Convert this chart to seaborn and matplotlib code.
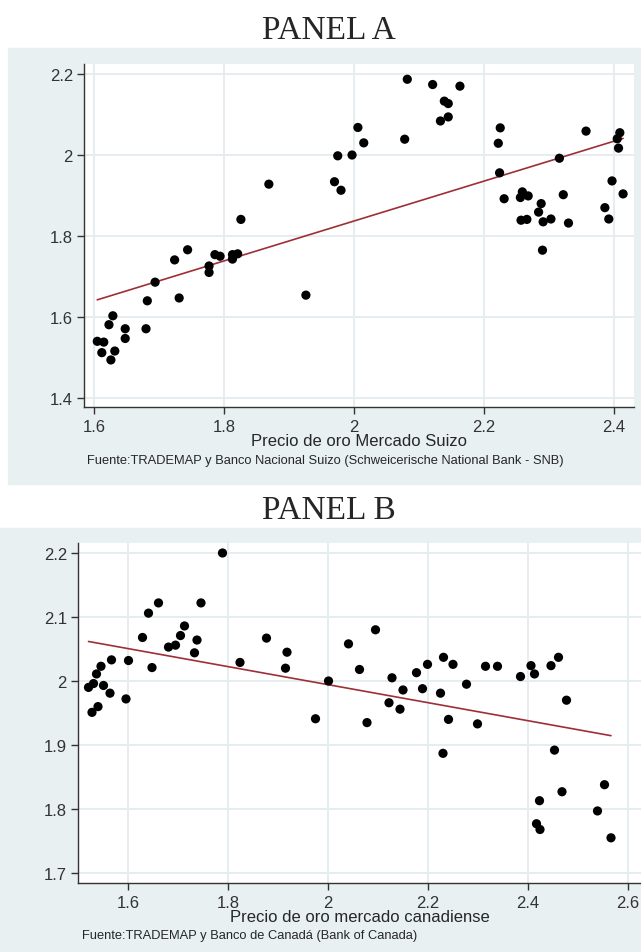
import pandas as pd
import matplotlib
matplotlib.use('Agg')
import matplotlib.pyplot as plt
import seaborn as sns
from matplotlib.patches import Rectangle
from matplotlib.ticker import FuncFormatter, MultipleLocator

# Panel A: precio del oro en el mercado suizo
suiza_x = [1.605, 1.615, 1.612, 1.623, 1.629, 1.632, 1.626, 1.648, 1.648, 1.680,
           1.682, 1.694, 1.724, 1.731, 1.744, 1.777, 1.777, 1.786, 1.794, 1.813,
           1.813, 1.821, 1.826, 1.869, 1.926, 1.970, 1.980, 1.975, 1.997, 2.006,
           2.015, 2.078, 2.082, 2.121, 2.163, 2.139, 2.145, 2.133, 2.145, 2.225,
           2.222, 2.224, 2.231, 2.259, 2.256, 2.268, 2.257, 2.266, 2.288, 2.284,
           2.291, 2.303, 2.290, 2.316, 2.322, 2.330, 2.357, 2.397, 2.386, 2.392,
           2.409, 2.405, 2.407, 2.414]
suiza_y = [1.540, 1.538, 1.512, 1.581, 1.603, 1.516, 1.494, 1.571, 1.547, 1.571,
           1.640, 1.686, 1.741, 1.647, 1.766, 1.726, 1.710, 1.754, 1.750, 1.743,
           1.754, 1.756, 1.841, 1.928, 1.654, 1.934, 1.913, 1.998, 2.000, 2.068,
           2.030, 2.039, 2.187, 2.174, 2.170, 2.133, 2.127, 2.084, 2.094, 2.067,
           2.029, 1.956, 1.892, 1.909, 1.895, 1.899, 1.839, 1.841, 1.880, 1.859,
           1.835, 1.842, 1.765, 1.992, 1.902, 1.832, 2.059, 1.936, 1.870, 1.842,
           2.055, 2.040, 2.017, 1.904]

# Panel B: precio del oro en el mercado canadiense
canada_x = [1.521, 1.531, 1.528, 1.540, 1.537, 1.546, 1.551, 1.564, 1.567, 1.596,
            1.601, 1.629, 1.641, 1.648, 1.661, 1.681, 1.695, 1.705, 1.713, 1.733,
            1.738, 1.746, 1.789, 1.824, 1.877, 1.918, 1.915, 1.975, 2.001, 2.041,
            2.063, 2.078, 2.095, 2.128, 2.122, 2.150, 2.144, 2.177, 2.189, 2.199,
            2.231, 2.225, 2.250, 2.241, 2.230, 2.277, 2.299, 2.315, 2.339, 2.385,
            2.406, 2.413, 2.446, 2.461, 2.477, 2.453, 2.553, 2.423, 2.468, 2.539,
            2.417, 2.424, 2.566]
canada_y = [1.990, 1.996, 1.951, 1.960, 2.011, 2.023, 1.993, 1.981, 2.033, 1.972,
            2.032, 2.068, 2.106, 2.021, 2.122, 2.053, 2.056, 2.071, 2.086, 2.044,
            2.064, 2.122, 2.200, 2.029, 2.067, 2.045, 2.020, 1.941, 2.000, 2.058,
            2.018, 1.935, 2.080, 2.005, 1.966, 1.986, 1.956, 2.013, 1.988, 2.026,
            2.037, 1.981, 2.026, 1.940, 1.887, 1.995, 1.933, 2.023, 2.023, 2.007,
            2.024, 2.011, 2.024, 2.037, 1.970, 1.892, 1.838, 1.813, 1.827, 1.797,
            1.777, 1.768, 1.755]

df_a = pd.DataFrame({'x': suiza_x, 'y': suiza_y})
df_b = pd.DataFrame({'x': canada_x, 'y': canada_y})

W, H = 641, 953
BG = '#e8f0f2'
GRID = '#e3ecef'
LINE = '#9e2f37'

sns.set_theme(style='white', rc={'axes.edgecolor': '#333333',
                                 'axes.linewidth': 1.0,
                                 'xtick.color': '#333333',
                                 'ytick.color': '#333333'})
plt.rcParams['font.family'] = ['Liberation Sans', 'DejaVu Sans']

fig = plt.figure(figsize=(W / 100, H / 100), dpi=100)


def box(l, t, r, b):
    return [l / W, 1 - b / H, (r - l) / W, (b - t) / H]


def frame(l, t, r, b):
    fig.patches.append(Rectangle((l / W, 1 - b / H), (r - l) / W, (b - t) / H,
                                 transform=fig.transFigure, color=BG, zorder=-5))


frame(8, 49, 641, 485)
frame(0, 529, 641, 953)

fmt = FuncFormatter(lambda v, p: f'{v:g}')


def panel(ax, df, xlim, ylim, ystep, xlabel):
    ax.set_facecolor('white')
    sns.scatterplot(data=df, x='x', y='y', ax=ax, color='black', s=44,
                    edgecolor='none', zorder=3)
    sns.regplot(data=df, x='x', y='y', ax=ax, scatter=False, ci=None,
                color=LINE, line_kws={'linewidth': 1.2, 'zorder': 2})
    ax.set_xlim(*xlim)
    ax.set_ylim(*ylim)
    ax.xaxis.set_major_locator(MultipleLocator(0.2))
    ax.yaxis.set_major_locator(MultipleLocator(ystep))
    ax.xaxis.set_major_formatter(fmt)
    ax.yaxis.set_major_formatter(fmt)
    ax.grid(True, color=GRID, linewidth=1.3, zorder=0)
    ax.set_axisbelow(True)
    for s in ['top', 'right']:
        ax.spines[s].set_visible(False)
    ax.tick_params(axis='x', direction='out', length=5, width=1, pad=4,
                   labelsize=12, bottom=True)
    ax.tick_params(axis='y', direction='out', length=5, width=1, pad=3,
                   labelsize=12, left=True)
    ax.set_xlabel(xlabel, fontsize=12, labelpad=-1)
    ax.set_ylabel('')


ax1 = fig.add_axes(box(84, 65, 634, 408))
panel(ax1, df_a, (1.5846, 2.4308), (1.3778, 2.2247), 0.2,
      'Precio de oro Mercado Suizo')

ax2 = fig.add_axes(box(78, 544, 641, 883.5))
panel(ax2, df_b, (1.5, 2.626), (1.6852, 2.2156), 0.1,
      'Precio de oro mercado canadiense')

fig.text(329 / W, 1 - 31 / H, 'PANEL A', family='Liberation Serif', fontsize=24,
         ha='center', va='center')
fig.text(329 / W, 1 - 511 / H, 'PANEL B', family='Liberation Serif', fontsize=24,
         ha='center', va='center')

fig.text(87 / W, 1 - 461 / H,
         'Fuente:TRADEMAP y Banco Nacional Suizo (Schweicerische National Bank - SNB)',
         fontsize=9.3, ha='left', va='center')
fig.text(82 / W, 1 - 936 / H, 'Fuente:TRADEMAP y Banco de Canadá (Bank of Canada)',
         fontsize=9.3, ha='left', va='center')

fig.savefig('out.png', dpi=100)
